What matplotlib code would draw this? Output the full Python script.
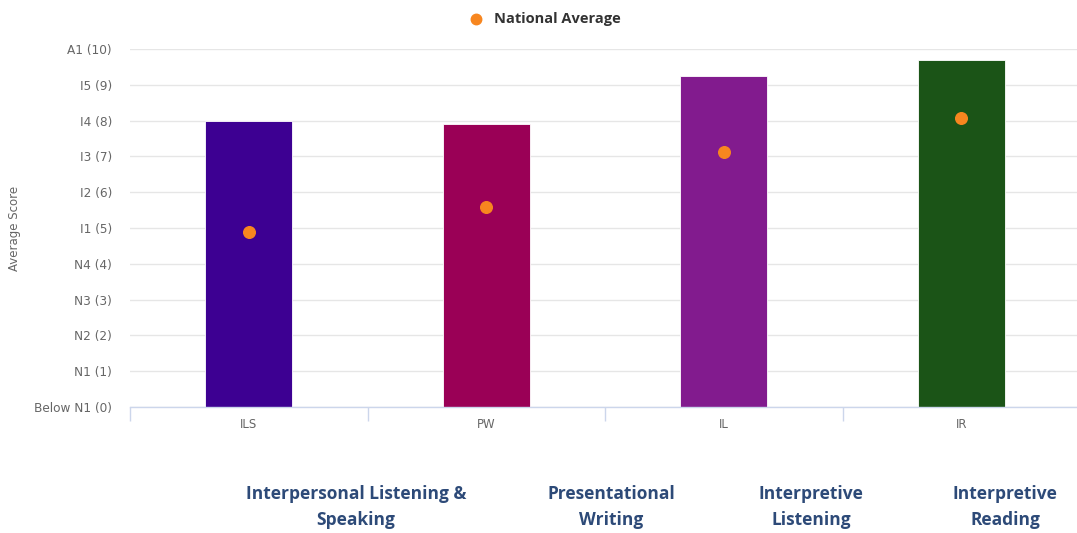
import matplotlib.pyplot as plt

# category codes, full names and scores
codes = ["ILS", "PW", "IL", "IR"]
full_names = ["Interpersonal Listening &\nSpeaking", "Presentational\nWriting",
              "Interpretive\nListening", "Interpretive\nReading"]
avg_scores = [8.0, 7.9, 9.25, 9.7]
national_avg = [4.9, 5.6, 7.12, 8.08]
bar_colors = ["#3d0092", "#9a0056", "#821b8e", "#1b5417"]
level_labels = ["Below N1 (0)", "N1 (1)", "N2 (2)", "N3 (3)", "N4 (4)", "I1 (5)",
                "I2 (6)", "I3 (7)", "I4 (8)", "I5 (9)", "A1 (10)"]

fig = plt.figure(figsize=(10.77, 5.33), dpi=100)
ax = fig.add_axes([130 / 1077, 1 - 407 / 533, 950 / 1077, (407 - 49) / 533])

x = list(range(len(codes)))
ax.bar(x, avg_scores, width=0.366, color=bar_colors, edgecolor="#ffffff",
       linewidth=0.6, zorder=2)
ax.scatter(x, national_avg, s=70, color="#f7861f", zorder=3, label="National Average")

ax.set_xlim(-0.5, 3.5)
ax.set_ylim(0, 10)
ax.set_yticks(range(11))
ax.set_yticklabels(level_labels, fontsize=8.7, color="#666666")
ax.set_xticks(x)
ax.set_xticklabels(codes, fontsize=8.5, color="#666666")
ax.tick_params(axis="x", length=0, pad=8)
ax.tick_params(axis="y", length=0, pad=13)
# boundary tick marks between categories
ax.set_xticks([-0.5, 0.5, 1.5, 2.5, 3.5], minor=True)
ax.tick_params(axis="x", which="minor", length=10, color="#ccd6eb", width=1)

ax.grid(axis="y", color="#e6e6e6", linewidth=1, zorder=0)
ax.set_axisbelow(True)
for s in ["top", "right", "left"]:
    ax.spines[s].set_visible(False)
ax.spines["bottom"].set_color("#ccd6eb")
ax.spines["bottom"].set_linewidth(1)
ax.spines["bottom"].set_zorder(4)

fig.text(15 / 1077, 1 - 228 / 533, "Average Score", rotation=90, fontsize=8.5,
         color="#666666", ha="center", va="center")

leg = fig.legend(loc="center", bbox_to_anchor=(541 / 1077, 1 - 19 / 533), frameon=False,
                 handletextpad=0.2, markerscale=0.9,
                 prop={"weight": "bold", "size": 10.5, "family": "Open Sans"})
for t in leg.get_texts():
    t.set_color("#333333")

# long names beneath the chart
name_x = [356, 611, 811, 1005]
for nx, name in zip(name_x, full_names):
    fig.text(nx / 1077, 1 - 507 / 533, name, ha="center", va="center", fontsize=12.5,
             fontweight="bold", color="#2d4a78", family="Open Sans", linespacing=1.55)

fig.savefig("out.png", dpi=100)
